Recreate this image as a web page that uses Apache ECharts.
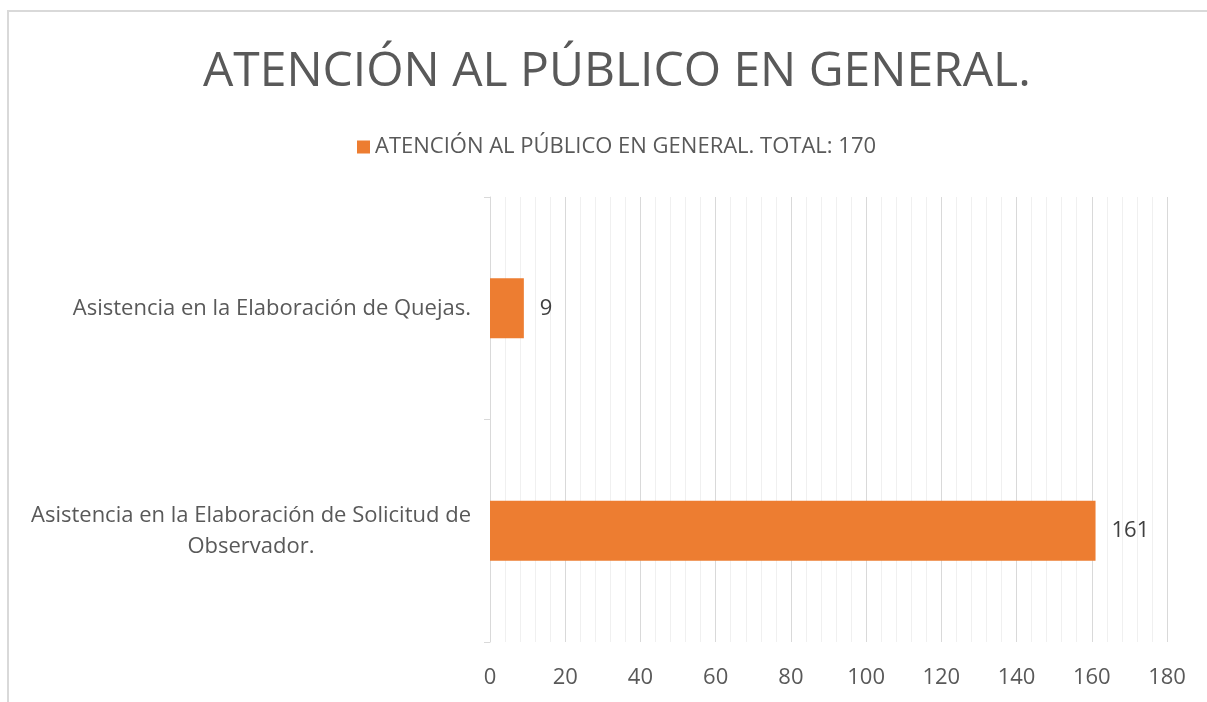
<!DOCTYPE html>
<html>
<head>
<meta charset="utf-8">
<script src="https://cdn.jsdelivr.net/npm/echarts@6/dist/echarts.min.js"></script>
<style>
  html, body { margin: 0; padding: 0; background: #fff; }
  #container { width: 1207px; height: 702px; }
</style>
</head>
<body>
<div id="container"></div>
<script>
var titulo = 'ATENCIÓN AL PÚBLICO EN GENERAL.';
var serieNombre = 'ATENCIÓN AL PÚBLICO EN GENERAL. TOTAL: 170';
// de arriba hacia abajo
var categorias = [
    'Asistencia en la Elaboración de Quejas.',
    'Asistencia en la Elaboración de Solicitud de Observador.'
];
var valores = [9, 161];

var fuente = '"Open Sans", "Noto Sans", sans-serif';

// corta el texto en lineas de maximo 45 caracteres
function partir(txt) {
    var palabras = txt.split(' ');
    var lineas = [];
    var actual = '';
    palabras.forEach(function (p) {
        if (actual && (actual + ' ' + p).length > 45) {
            lineas.push(actual);
            actual = p;
        } else {
            actual = actual ? actual + ' ' + p : p;
        }
    });
    lineas.push(actual);
    return lineas.map(function (l) { return '{c|' + l + '}'; }).join('\n');
}

var option = {
    backgroundColor: '#fff',
    textStyle: { fontFamily: fuente },
    graphic: [{
        type: 'rect',
        shape: { x: 8, y: 11, width: 1300, height: 800 },
        style: { fill: 'none', stroke: '#d9d9d9', lineWidth: 2 },
        silent: true
    }],
    title: {
        text: titulo,
        left: 198,
        top: 43,
        textStyle: {
            fontFamily: fuente,
            fontSize: 48,
            fontWeight: 'normal',
            color: '#595959'
        }
    },
    legend: {
        top: 131,
        left: 352,
        itemWidth: 13,
        itemHeight: 13,
        itemGap: 8,
        icon: 'rect',
        textStyle: { fontSize: 22, color: '#595959', fontFamily: fuente },
        data: [serieNombre]
    },
    grid: {
        left: 490,
        right: 40,
        top: 197,
        bottom: 60,
        containLabel: false
    },
    xAxis: {
        type: 'value',
        min: 0,
        max: 180,
        interval: 20,
        axisLine: { show: false },
        axisTick: { show: false },
        axisLabel: { fontSize: 22, color: '#595959', margin: 25, fontFamily: fuente },
        splitLine: { lineStyle: { color: '#d9d9d9', width: 1 } },
        minorTick: { show: false, splitNumber: 5 },
        minorSplitLine: { show: true, lineStyle: { color: '#f0f0f0', width: 1 } }
    },
    yAxis: {
        type: 'category',
        inverse: true,
        data: categorias,
        axisLine: { show: true, lineStyle: { color: '#d9d9d9', width: 1 } },
        axisTick: { show: true, length: 6, lineStyle: { color: '#d9d9d9' } },
        axisLabel: {
            margin: 19,
            color: '#595959',
            fontSize: 22,
            fontFamily: fuente,
            formatter: partir,
            rich: {
                c: { align: 'center', fontSize: 22, color: '#595959', lineHeight: 31, fontFamily: fuente }
            }
        }
    },
    series: [{
        name: serieNombre,
        type: 'bar',
        data: valores,
        barWidth: 60,
        itemStyle: { color: '#ED7D31' },
        label: {
            show: true,
            position: 'right',
            distance: 16,
            fontSize: 22,
            color: '#404040',
            fontFamily: fuente
        }
    }]
};

var myChart = echarts.init(document.getElementById('container'));
myChart.setOption(option);
</script>
</body>
</html>
